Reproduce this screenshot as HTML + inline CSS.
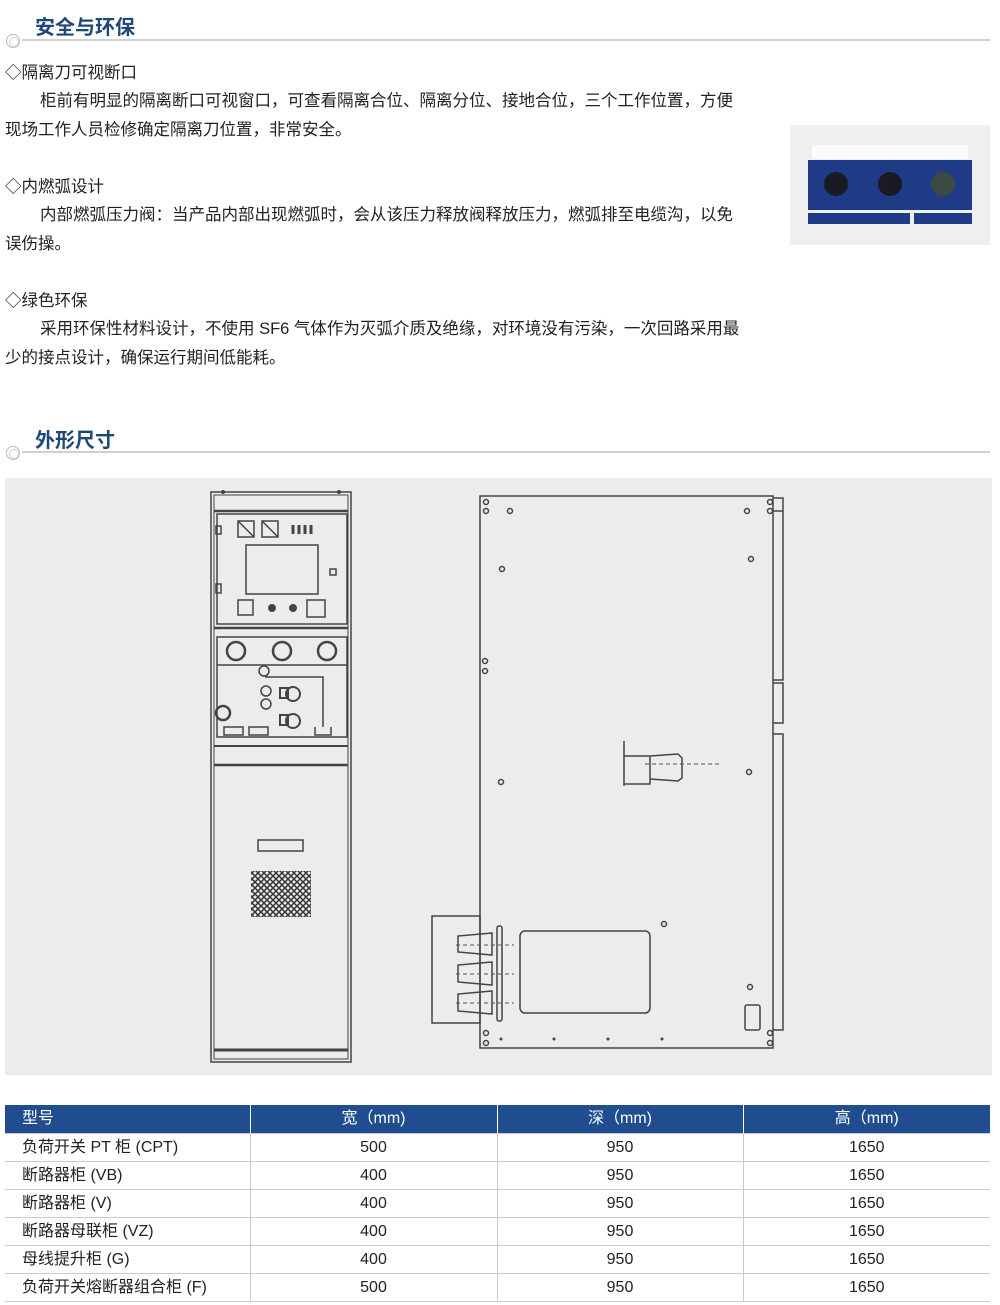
<!DOCTYPE html>
<html><head><meta charset="utf-8"><style>
body{margin:0;width:1000px;height:1305px;background:#fff;position:relative;overflow:hidden;font-family:"Liberation Sans","Noto Sans CJK SC",sans-serif;color:#222}
.a{position:absolute;white-space:nowrap}
.h{font-size:20px;font-weight:bold;color:#1e4876}
.t{font-size:16.5px;line-height:29px}
.p{text-indent:35px;white-space:normal;width:740px}
table{position:absolute;left:5px;top:1105px;width:985px;border-collapse:collapse;font-size:16px;table-layout:fixed}
td{height:27px;line-height:27px;border-bottom:1px solid #ccc;text-align:center;padding:0;vertical-align:middle;overflow:hidden;white-space:nowrap}
td:first-child{text-align:left;padding-left:17px}
td+td{border-left:1px solid #ccc}
tr.hd td{background:#1f4d8f;color:#fff;border-left:1px solid #fff;height:28px;line-height:28px}
tr.hd td:first-child{border-left:none}
</style></head><body>
<div class="a h" style="left:35px;top:11px">安全与环保</div>
<div class="a" style="left:22px;top:39px;width:968px;height:2px;background:#d0d0d0"></div>
<div class="a" style="left:6px;top:34px;width:12px;height:12px;border:1px solid #bbb;border-radius:50%"></div>
<div class="a" style="left:9px;top:37px;width:8px;height:8px;border:1px solid #ccc;border-radius:50%"></div>

<div class="a t" style="left:5px;top:59px">◇隔离刀可视断口</div>
<div class="a t p" style="left:5px;top:87px">柜前有明显的隔离断口可视窗口，可查看隔离合位、隔离分位、接地合位，三个工作位置，方便现场工作人员检修确定隔离刀位置，非常安全。</div>
<div class="a t" style="left:5px;top:173px">◇内燃弧设计</div>
<div class="a t p" style="left:5px;top:201px">内部燃弧压力阀：当产品内部出现燃弧时，会从该压力释放阀释放压力，燃弧排至电缆沟，以免误伤操。</div>
<div class="a t" style="left:5px;top:287px">◇绿色环保</div>
<div class="a t p" style="left:5px;top:315px">采用环保性材料设计，不使用 SF6 气体作为灭弧介质及绝缘，对环境没有污染，一次回路采用最少的接点设计，确保运行期间低能耗。</div>

<svg class="a" style="left:790px;top:125px" width="200" height="120">
<rect width="200" height="120" fill="#efefef"/>
<rect x="22" y="20" width="156" height="14" fill="#fafafa"/>
<rect x="18" y="35" width="164" height="50" fill="#1f3a86"/>
<circle cx="46" cy="59" r="12" fill="#1a1a22"/><circle cx="100" cy="59" r="12" fill="#1a1a22"/><circle cx="153" cy="59" r="12" fill="#3a4a40"/>
<rect x="18" y="88" width="102" height="11" fill="#1f3a86"/><rect x="124" y="88" width="58" height="11" fill="#1f3a86"/>
</svg>

<div class="a h" style="left:35px;top:424px">外形尺寸</div>
<div class="a" style="left:22px;top:451px;width:968px;height:2px;background:#d0d0d0"></div>
<div class="a" style="left:6px;top:446px;width:12px;height:12px;border:1px solid #bbb;border-radius:50%"></div>
<div class="a" style="left:9px;top:449px;width:8px;height:8px;border:1px solid #ccc;border-radius:50%"></div>

<svg class="a" style="left:0;top:0" width="1000" height="1090">
<rect x="5" y="478" width="987" height="597" fill="#ececec"/>
<g fill="none" stroke="#444" stroke-width="1.5">
<rect x="211" y="492" width="140" height="570"/>
<rect x="214" y="495" width="134" height="564" stroke-width="1"/>
<line x1="214" y1="511" x2="348" y2="511" stroke-width="2.5"/>
<rect x="217" y="514" width="130" height="110"/>
<rect x="238" y="521" width="16" height="16"/><rect x="262" y="521" width="16" height="16"/>
<path d="M238 521l16 16M262 521l16 16"/>
<path d="M293 525v9M299 525v9M305 525v9M311 525v9" stroke-width="3"/>
<rect x="246" y="545" width="72" height="49"/>
<rect x="330" y="569" width="6" height="6"/>
<rect x="238" y="600" width="15" height="15"/><rect x="307" y="600" width="18" height="17"/>
<rect x="216" y="526" width="5" height="8"/><rect x="216" y="584" width="5" height="9"/>
<line x1="214" y1="628" x2="348" y2="628" stroke-width="2.5"/>
<rect x="217" y="637" width="130" height="100"/>
<line x1="217" y1="665" x2="347" y2="665"/>
<circle cx="236" cy="651" r="9" stroke-width="2.5"/><circle cx="282" cy="651" r="9" stroke-width="2.5"/><circle cx="327" cy="651" r="9" stroke-width="2.5"/>
<circle cx="264" cy="671" r="5"/><circle cx="266" cy="691" r="5"/><circle cx="266" cy="704" r="5"/>
<circle cx="293" cy="694" r="7" stroke-width="2"/><circle cx="293" cy="721" r="7" stroke-width="2"/>
<rect x="280" y="688" width="8" height="10" stroke-width="2"/><rect x="280" y="715" width="8" height="10" stroke-width="2"/>
<path d="M265 677h58v50M315 727v8h16v-8"/>
<circle cx="223" cy="713" r="7" stroke-width="2.5"/>
<rect x="224" y="727" width="19" height="8"/><rect x="249" y="727" width="19" height="8"/>
<line x1="214" y1="746" x2="348" y2="746" stroke-width="2"/>
<line x1="214" y1="765" x2="348" y2="765" stroke-width="2.5"/>
<rect x="258" y="840" width="45" height="11"/>
<line x1="214" y1="1050" x2="348" y2="1050" stroke-width="3"/>
<rect x="480" y="496" width="293" height="552"/>
<path d="M773 498h10v13M773 511h10v169h-10M773 683h10v40h-10M773 734h10v296h-10"/>
<path d="M624 741v15h26v28h-26v-28M650 756l28 -2l4 4v20l-4 3l-28 -2M624 772v14" />
<rect x="432" y="916" width="48" height="107"/>
<rect x="520" y="931" width="130" height="82" rx="5"/>
<rect x="497" y="926" width="5" height="95" rx="2"/>
<path d="M492 933l-34 3v16l34 3zM492 962l-34 3v17l34 3zM492 991l-34 3v17l34 3z"/>
<rect x="745" y="1005" width="15" height="25" rx="2"/>
</g>
<g fill="none" stroke="#555" stroke-dasharray="4 3"><path d="M645 764h75M456 945h58M456 974h58M456 1003h58"/></g>
<g fill="none" stroke="#444" stroke-width="1.5">
<circle cx="486" cy="502" r="2.5"/><circle cx="486" cy="511" r="2.5"/><circle cx="510" cy="511" r="2.5"/>
<circle cx="747" cy="511" r="2.5"/><circle cx="770" cy="502" r="2.5"/><circle cx="770" cy="511" r="2.5"/>
<circle cx="502" cy="569" r="2.5"/><circle cx="751" cy="559" r="2.5"/>
<circle cx="485" cy="661" r="2.5"/><circle cx="485" cy="671" r="2.5"/>
<circle cx="501" cy="782" r="2.5"/><circle cx="749" cy="772" r="2.5"/>
<circle cx="664" cy="924" r="2.5"/><circle cx="750" cy="987" r="2.5"/>
<circle cx="486" cy="1033" r="2.5"/><circle cx="486" cy="1043" r="2.5"/>
<circle cx="770" cy="1033" r="2.5"/><circle cx="770" cy="1043" r="2.5"/>
</g>
<g fill="#444"><circle cx="501" cy="1039" r="1.5"/><circle cx="554" cy="1039" r="1.5"/><circle cx="608" cy="1039" r="1.5"/><circle cx="662" cy="1039" r="1.5"/>
<circle cx="223" cy="492" r="2"/><circle cx="339" cy="492" r="2"/><circle cx="272" cy="608" r="4"/><circle cx="293" cy="608" r="4"/></g>
<defs><pattern id="m" width="6" height="6" patternUnits="userSpaceOnUse"><circle cx="3" cy="3" r="2.3" fill="none" stroke="#222" stroke-width="1.4"/></pattern></defs>
<rect x="251" y="871" width="60" height="46" fill="url(#m)"/>
</svg>

<table>
<colgroup><col style="width:245px"><col style="width:247px"><col style="width:246px"><col style="width:247px"></colgroup>
<tr class="hd"><td>型号</td><td>宽（mm)</td><td>深（mm)</td><td>高（mm)</td></tr>
<tr><td>负荷开关 PT 柜 (CPT)</td><td>500</td><td>950</td><td>1650</td></tr>
<tr><td>断路器柜 (VB)</td><td>400</td><td>950</td><td>1650</td></tr>
<tr><td>断路器柜 (V)</td><td>400</td><td>950</td><td>1650</td></tr>
<tr><td>断路器母联柜 (VZ)</td><td>400</td><td>950</td><td>1650</td></tr>
<tr><td>母线提升柜 (G)</td><td>400</td><td>950</td><td>1650</td></tr>
<tr><td>负荷开关熔断器组合柜 (F)</td><td>500</td><td>950</td><td>1650</td></tr>
</table>
</body></html>
